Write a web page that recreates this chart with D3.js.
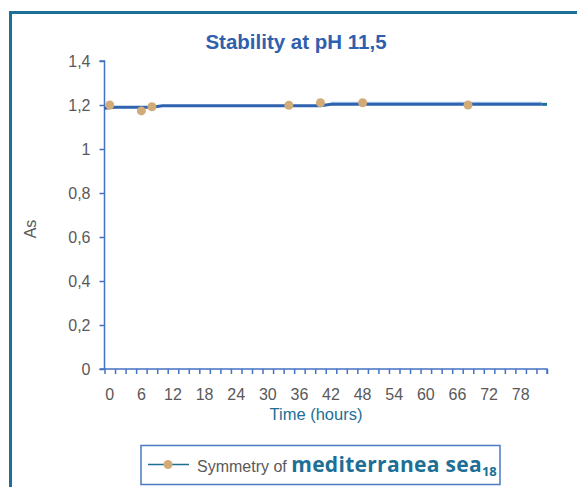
<!DOCTYPE html>
<meta charset="utf-8">
<html lang="en">
<head>
<script src="https://d3js.org/d3.v7.min.js"></script>
<style>
  body { margin: 0; background: #fff; }
  svg { display: block; font-family: "Liberation Sans", Arial, sans-serif; }
</style>
</head>
<body>
<svg></svg>
<script>
// data
var pointHours = [0, 6, 8, 34, 40, 48, 68];
var pointValues = [1.2, 1.173, 1.192, 1.199, 1.21, 1.21, 1.2];
var lineHours = [-1, 1, 8, 10, 40, 42, 82];
var lineValues = [1.185, 1.19, 1.19, 1.197, 1.197, 1.203, 1.203];
var yTicks = [0, 0.2, 0.4, 0.6, 0.8, 1, 1.2, 1.4];
var xLabels = [0, 6, 12, 18, 24, 30, 36, 42, 48, 54, 60, 66, 72, 78];

let width = 577, height = 487;
let svg = d3.select("svg").attr("width", width).attr("height", height);

// outer frame (runs off the right and bottom edges)
svg.append("rect")
  .attr("x", 10.5).attr("y", 12.5)
  .attr("width", 600).attr("height", 520)
  .attr("fill", "none").attr("stroke", "#1d6f95").attr("stroke-width", 3);

var x = d3.scaleLinear().domain([-1, 83]).range([104.5, 547]);
var y = d3.scaleLinear().domain([0, 1.4]).range([369, 61]);
var axisColor = "#4472c4";
var fmt = function(d) { return String(d).replace(".", ","); };

svg.append("text")
  .attr("x", 296).attr("y", 49)
  .attr("text-anchor", "middle")
  .attr("font-size", 20.5).attr("font-weight", "bold")
  .attr("fill", "#2f60ad")
  .text("Stability at pH 11,5");

// y axis
var yAxis = svg.append("g").attr("transform", "translate(104.5,0)")
  .call(d3.axisLeft(y).tickValues(yTicks).tickSize(5).tickPadding(9).tickFormat(fmt));
yAxis.selectAll("path, line").attr("stroke", axisColor).attr("stroke-width", 1.5);
yAxis.select(".domain").attr("d", "M-5," + y(1.4) + "H0V" + y(0));
yAxis.selectAll("text").attr("font-size", 16).attr("fill", "#595959").attr("font-family", "Liberation Sans, Arial");

// x axis: ticks every 2 hours, labels every 6
var tickHours = d3.range(-1, 84, 2);
var xAxis = svg.append("g").attr("transform", "translate(0," + y(0) + ")")
  .call(d3.axisBottom(x).tickValues(tickHours).tickSize(5).tickFormat(""));
xAxis.selectAll("path, line").attr("stroke", axisColor).attr("stroke-width", 1.5);
xAxis.select(".domain").attr("d", "M" + (x(-1) - 5) + ",0H" + x(83) + "V5");

svg.append("g").selectAll("text")
  .data(xLabels).enter().append("text")
  .attr("x", d => x(d)).attr("y", 400)
  .attr("text-anchor", "middle")
  .attr("font-size", 16).attr("fill", "#595959")
  .text(d => d);

svg.append("text")
  .attr("x", 316).attr("y", 420)
  .attr("text-anchor", "middle")
  .attr("font-size", 16.5).attr("fill", "#1d6f95")
  .text("Time (hours)");

svg.append("text")
  .attr("transform", "translate(36,229) rotate(-90)")
  .attr("text-anchor", "middle")
  .attr("font-size", 16).attr("fill", "#595959")
  .text("As");

// lines
var line = d3.line().x((d, i) => x(lineHours[i])).y(d => y(d));
var lightHours = lineHours.slice(5);
svg.append("path")
  .datum(lineValues.slice(5))
  .attr("d", d3.line().x((d, i) => x(lightHours[i])).y(d => y(d) - 1.5))
  .attr("fill", "none").attr("stroke", "#b9cde9").attr("stroke-width", 2);
svg.append("path")
  .datum(lineValues)
  .attr("d", line)
  .attr("fill", "none").attr("stroke", "#2f63b0").attr("stroke-width", 3);
svg.append("path")
  .datum([lineValues[6], lineValues[6]])
  .attr("d", d3.line().x((d, i) => x(82 + i)).y(d => y(d)))
  .attr("fill", "none").attr("stroke", "#1d6f95").attr("stroke-width", 3);

svg.append("g").selectAll("circle")
  .data(pointValues).enter().append("circle")
  .attr("cx", (d, i) => x(pointHours[i])).attr("cy", d => y(d))
  .attr("r", 4.5).attr("fill", "#d3ab78");

// legend
var lg = svg.append("g");
lg.append("rect")
  .attr("x", 141).attr("y", 445.5).attr("width", 359).attr("height", 39)
  .attr("fill", "#fff").attr("stroke", "#4d78c2").attr("stroke-width", 1.5);
lg.append("line")
  .attr("x1", 148).attr("x2", 189).attr("y1", 464.5).attr("y2", 464.5)
  .attr("stroke", "#1d6f95").attr("stroke-width", 1.5);
lg.append("circle").attr("cx", 168).attr("cy", 464.5).attr("r", 4.5).attr("fill", "#d3ab78");
var lt = lg.append("text").attr("x", 197).attr("y", 472);
lt.append("tspan").attr("font-size", 16).attr("fill", "#595959").text("Symmetry of ");
lt.append("tspan").attr("font-size", 21).attr("font-weight", "bold").attr("fill", "#1d6f95")
  .attr("font-family", "Open Sans, sans-serif").attr("letter-spacing", 0.3).text("mediterranea sea");
lt.append("tspan").attr("font-size", 13).attr("font-weight", "bold").attr("fill", "#1d6f95")
  .attr("font-family", "Open Sans, sans-serif").attr("dy", 4).text("18");
</script>
</body>
</html>
